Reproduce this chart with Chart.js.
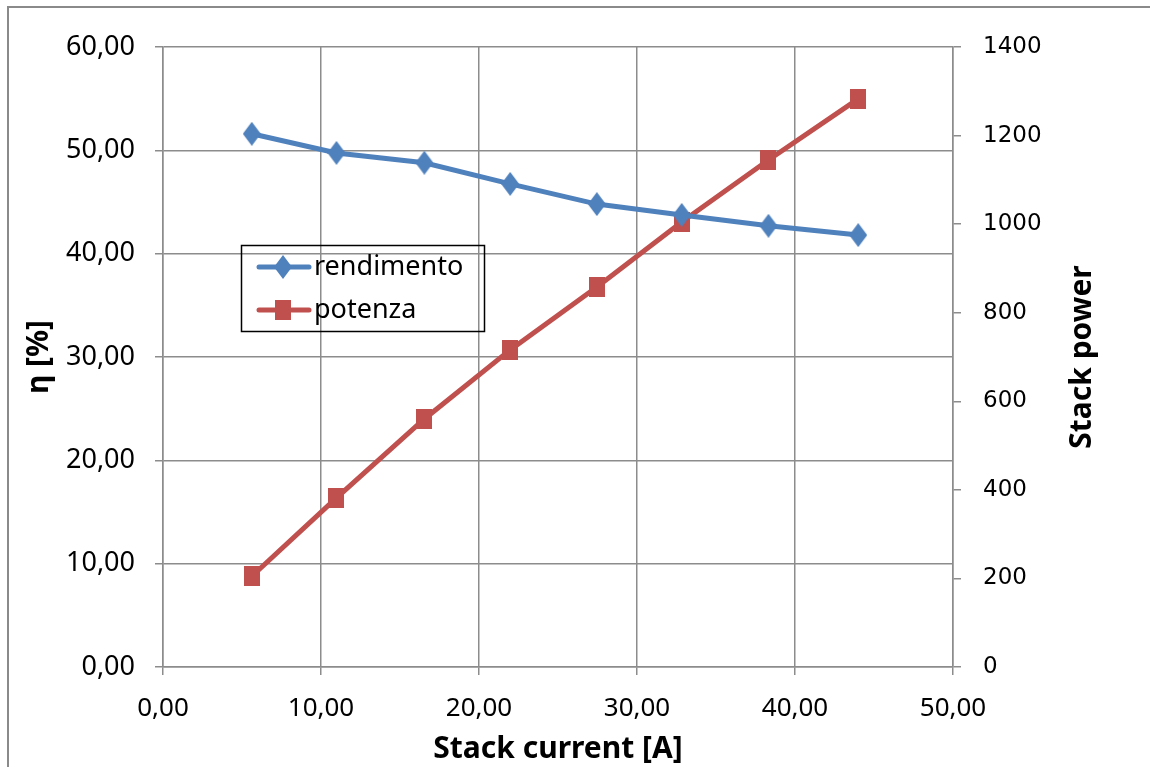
<!DOCTYPE html>
<html>
<head>
<meta charset="utf-8">
<script src="https://cdn.jsdelivr.net/npm/chart.js@4/dist/chart.umd.min.js"></script>
<style>
html,body{margin:0;padding:0;background:#fff;}
#wrap{position:relative;width:1150px;height:767px;overflow:hidden;}
#frame{position:absolute;left:7px;top:6px;width:1200px;height:800px;border-left:2px solid #8a8a8a;border-top:2px solid #8a8a8a;box-sizing:border-box;pointer-events:none;}
canvas{position:absolute;left:0;top:0;}
</style>
</head>
<body>
<div id="wrap">
<canvas id="c" width="1150" height="767"></canvas>
<div id="frame"></div>
</div>
<script>
// valori
const current=[5.62,10.98,16.54,21.97,27.46,32.83,38.32,44.0];
const rendimento=[51.6,49.75,48.8,46.75,44.8,43.75,42.7,41.8];
const potenza=[205,382,560,716,858,1005,1145,1283];
const names=['rendimento','potenza'];
const yTitles=['η [%]','Stack power'];
const BLUE='#4f81bd',RED='#c0504d',GRID='#8c8c8c';
const TFONT='bold 30px "Noto Sans",sans-serif';

function mk(w,h,fn){const c=document.createElement('canvas');c.width=w;c.height=h;const x=c.getContext('2d');fn(x,w,h);return c;}
const diamond=mk(18,24,(x,w,h)=>{x.fillStyle=BLUE;x.beginPath();x.moveTo(w/2,0);x.lineTo(w,h/2);x.lineTo(w/2,h);x.lineTo(0,h/2);x.closePath();x.fill();});
const square=mk(16,20,(x,w,h)=>{x.fillStyle=RED;x.fillRect(0,0,w,h);});

const fmt2=v=>Number(v).toFixed(2).replace('.',',');

const extras={
  id:'extras',
  afterDraw(ch){
    const ctx=ch.ctx,a=ch.chartArea;
    ctx.save();
    // titoli assi verticali, entrambi letti dal basso verso l'alto
    ctx.font=TFONT;ctx.fillStyle='#000';ctx.textAlign='center';ctx.textBaseline='middle';
    const mid=(a.top+a.bottom)/2;
    [[39,yTitles[0]],[1082,yTitles[1]]].forEach(t=>{
      ctx.save();ctx.translate(t[0],mid);ctx.rotate(-Math.PI/2);ctx.fillText(t[1],0,0);ctx.restore();
    });
    // legenda
    ctx.strokeStyle='#000';ctx.lineWidth=1.5;
    ctx.strokeRect(241.5,245.5,243,86);
    const rows=[[BLUE,diamond,267],[RED,square,310]];
    ctx.font='27px "Noto Sans",sans-serif';
    ctx.textAlign='left';
    rows.forEach((r,i)=>{
      ctx.strokeStyle=r[0];ctx.lineWidth=5;ctx.lineCap='round';
      ctx.beginPath();ctx.moveTo(259,r[2]);ctx.lineTo(309,r[2]);ctx.stroke();
      ctx.drawImage(r[1],283-r[1].width/2,r[2]-r[1].height/2);
      ctx.fillText(names[i],314,r[2]);
    });
    ctx.restore();
  }
};

new Chart(document.getElementById('c'),{
  type:'line',
  data:{datasets:[
    {label:names[0],data:current.map((x,i)=>({x,y:rendimento[i]})),yAxisID:'y',borderColor:BLUE,backgroundColor:BLUE,borderWidth:5,pointStyle:diamond,pointRadius:10,tension:0},
    {label:names[1],data:current.map((x,i)=>({x,y:potenza[i]})),yAxisID:'y2',borderColor:RED,backgroundColor:RED,borderWidth:5,pointStyle:square,pointRadius:10,tension:0}
  ]},
  options:{
    responsive:false,animation:false,
    layout:{padding:{top:47,left:0,right:0,bottom:0}},
    plugins:{legend:{display:false},tooltip:{enabled:false}},
    scales:{
      x:{type:'linear',min:0,max:50,
        ticks:{stepSize:10,callback:fmt2,color:'#000',padding:18,maxRotation:0,font:{family:'"Noto Sans",sans-serif',size:26}},
        grid:{color:GRID,lineWidth:1.5,tickLength:8},
        border:{color:GRID,width:1.5},
        title:{display:true,text:'Stack current [A]',color:'#000',padding:{top:0,bottom:0},font:{family:'"Noto Sans",sans-serif',size:30,weight:'bold'}},
        afterFit(s){s.height=100;}
      },
      y:{position:'left',min:0,max:60,
        ticks:{stepSize:10,callback:fmt2,color:'#000',padding:20,font:{family:'"Noto Sans",sans-serif',size:27}},
        grid:{color:GRID,lineWidth:1.5,tickLength:8},
        border:{color:GRID,width:1.5},
        afterFit(s){s.width=163;}
      },
      y2:{position:'right',min:0,max:1400,
        ticks:{stepSize:200,callback:v=>String(v),color:'#000',padding:22,font:{family:'"DejaVu Sans",sans-serif',size:23}},
        grid:{drawOnChartArea:false,color:GRID,lineWidth:1.5,tickLength:8},
        border:{color:GRID,width:1.5},
        afterFit(s){s.width=197;}
      }
    }
  },
  plugins:[extras]
});
</script>
</body>
</html>
